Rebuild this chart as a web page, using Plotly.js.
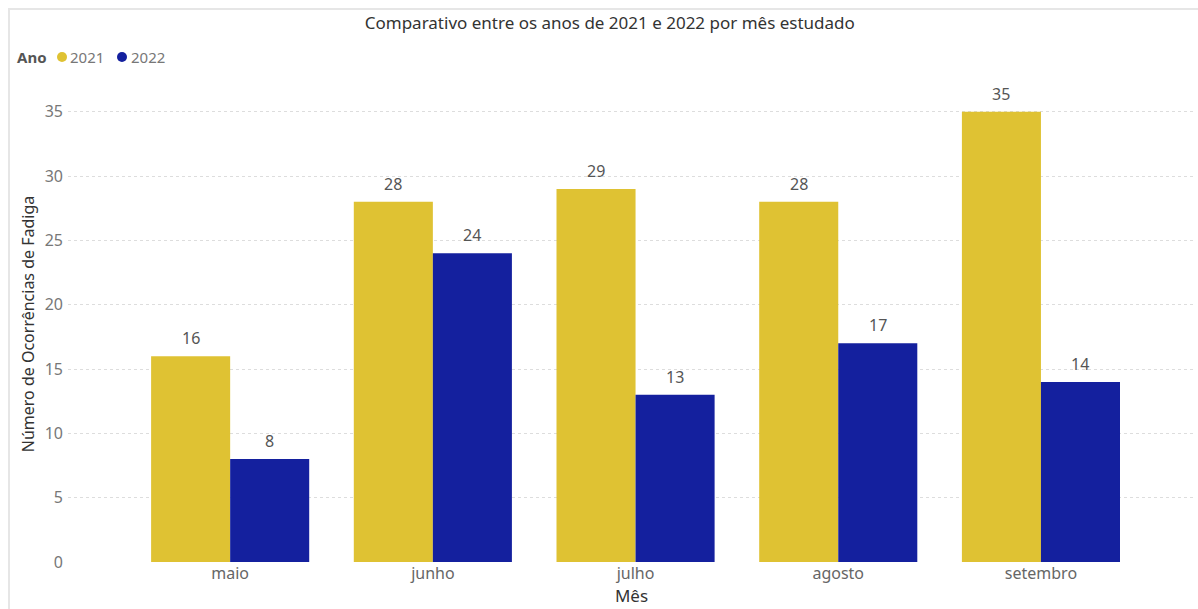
<!DOCTYPE html>
<html>
<head>
<meta charset="utf-8">
<script src="https://cdn.plot.ly/plotly-3.0.1.min.js"></script>
<style>
html,body{margin:0;padding:0;background:#fff;}
#chart{width:1198px;height:609px;}
#frame{position:absolute;left:8px;top:8px;width:1190px;height:601px;border-left:2px solid #e6e6e6;border-top:2px solid #e6e6e6;pointer-events:none;}
</style>
</head>
<body>
<div id="chart"></div>
<div id="frame"></div>
<script>
const months = ["maio", "junho", "julho", "agosto", "setembro"];
const values2021 = [16, 28, 29, 28, 35];
const values2022 = [8, 24, 13, 17, 14];
const seriesNames = ["2021", "2022"];
const colors = ["#DFC233", "#14209E"];
const yTicks = [0, 5, 10, 15, 20, 25, 30, 35];

const font = "Noto Sans, Open Sans, sans-serif";

const bar = (vals, i) => ({
  type: "bar",
  x: months,
  y: vals,
  name: seriesNames[i],
  marker: {color: colors[i]},
  showlegend: false,
  hoverinfo: "x+y+name"
});

const data = [bar(values2021, 0), bar(values2022, 1)];

// value labels above bars (offset to each bar within the group)
const barHalf = 39.5;
const annotations = [];
[values2021, values2022].forEach((vals, s) => {
  vals.forEach((v, j) => {
    annotations.push({
      x: months[j], y: v, xref: "x", yref: "y",
      text: String(v), showarrow: false,
      xshift: s === 0 ? -barHalf : barHalf,
      yanchor: "bottom", yshift: 5,
      font: {size: 16, color: "#555", family: font}
    });
  });
});

// custom legend: "Ano ● 2021 ● 2022"
const legY = 1.061;
const legTextX = [0.0, 0.0541];
const legDotX = [-0.0053, 0.0479];
annotations.push({
  xref: "paper", yref: "paper", x: -0.047, y: legY,
  xanchor: "left", yanchor: "middle", showarrow: false,
  text: "<b>Ano</b>", font: {size: 15, color: "#555", family: font}
});
const shapes = [];
seriesNames.forEach((n, i) => {
  annotations.push({
    xref: "paper", yref: "paper", x: legTextX[i], y: legY,
    xanchor: "left", yanchor: "middle", showarrow: false,
    text: n, font: {size: 15, color: "#777", family: font}
  });
  shapes.push({
    type: "circle", xref: "paper", yref: "paper",
    xsizemode: "pixel", ysizemode: "pixel",
    xanchor: legDotX[i], yanchor: legY,
    x0: -5, x1: 5, y0: -5, y1: 5,
    fillcolor: colors[i], line: {width: 0}
  });
});

const layout = {
  width: 1198, height: 609,
  margin: {l: 68, r: 3, t: 86, b: 47},
  paper_bgcolor: "#fff", plot_bgcolor: "#fff",
  font: {family: font, color: "#666"},
  title: {text: "Comparativo entre os anos de 2021 e 2022 por mês estudado",
          x: 0.509, xanchor: "center", y: 0.962, yanchor: "middle",
          font: {size: 17, color: "#333", family: font}},
  barmode: "group", bargap: 0.22, bargroupgap: 0,
  xaxis: {
    range: [-0.8, 4.76],
    showgrid: false, zeroline: false, showline: false,
    tickfont: {size: 16, color: "#666"},
    ticks: "",
    title: {text: "Mês", font: {size: 17, color: "#333"}, standoff: 2}
  },
  yaxis: {
    range: [0, 37],
    tickvals: yTicks,
    showgrid: true, gridcolor: "#dddddd", griddash: "dot", gridwidth: 1,
    zeroline: false, showline: false,
    tickfont: {size: 16, color: "#777"},
    ticklabelstandoff: 4,
    title: {text: "Número de Ocorrências de Fadiga", font: {size: 16, color: "#333"}, standoff: 6}
  },
  annotations: annotations,
  shapes: shapes,
  showlegend: false
};

Plotly.newPlot("chart", data, layout, {displayModeBar: false, responsive: false});
</script>
</body>
</html>
